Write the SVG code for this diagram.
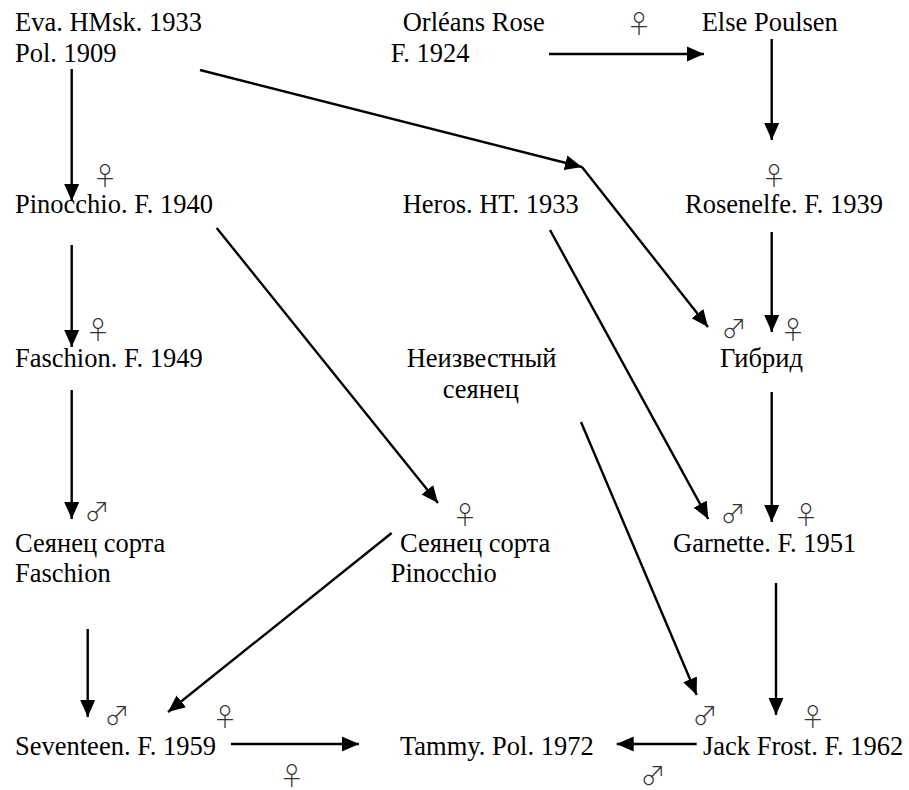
<svg xmlns="http://www.w3.org/2000/svg" width="909" height="790" viewBox="0 0 909 790">
<style>
text.n{font-family:"Liberation Serif","Times New Roman",serif;font-size:26.5px;fill:#000}
text.s{font-family:"Noto Sans CJK JP","DejaVu Sans",sans-serif;font-size:25px;font-weight:300;fill:#333;text-anchor:middle}
.c line{stroke:#000;stroke-width:2.4;fill:none;marker-end:url(#ah)}
</style>
<defs>
<marker id="ah" markerUnits="userSpaceOnUse" markerWidth="17" markerHeight="17" viewBox="0 0 17 17" refX="17" refY="8.5" orient="auto">
<path d="M0,1 L17,8.5 L0,16 Z" fill="#000"/>
</marker>
</defs>
<rect width="909" height="790" fill="#fff"/>
<g class="c" id="connectors">
<line x1="71.7" y1="69" x2="71.7" y2="201"/>
<line x1="200" y1="70" x2="582" y2="167"/>
<line x1="582" y1="167" x2="708" y2="327"/>
<line x1="549" y1="54" x2="704" y2="54"/>
<line x1="771.7" y1="39" x2="771.7" y2="140"/>
<line x1="71.7" y1="245" x2="71.7" y2="347"/>
<line x1="216.7" y1="228" x2="438" y2="503"/>
<line x1="550" y1="230" x2="708.3" y2="519"/>
<line x1="771.7" y1="232" x2="771.7" y2="332"/>
<line x1="71.7" y1="390" x2="71.7" y2="519"/>
<line x1="771.7" y1="392" x2="771.7" y2="522"/>
<line x1="391.7" y1="533" x2="168" y2="712"/>
<line x1="581" y1="422" x2="696.7" y2="695"/>
<line x1="87.7" y1="629" x2="87.7" y2="717"/>
<line x1="776" y1="583" x2="776" y2="715"/>
<line x1="231" y1="744" x2="359" y2="744"/>
<line x1="696.7" y1="744" x2="616.7" y2="744"/>
</g>
<g id="eva"><text class="n" x="15" y="31">Eva. HMsk. 1933</text><text class="n" x="15" y="62">Pol. 1909</text></g>
<g id="orleans"><text class="n" x="402.7" y="31">Orléans Rose</text><text class="n" x="390.7" y="62">F. 1924</text></g>
<g id="else"><text class="n" x="701.7" y="31">Else Poulsen</text></g>
<g id="pinocchio"><text class="n" x="15" y="213">Pinocchio. F. 1940</text></g>
<g id="heros"><text class="n" x="402.7" y="213">Heros. HT. 1933</text></g>
<g id="rosenelfe"><text class="n" x="685" y="213">Rosenelfe. F. 1939</text></g>
<g id="faschion"><text class="n" x="15" y="367">Faschion. F. 1949</text></g>
<g id="unknown"><text class="n" x="406.7" y="367">Неизвестный</text><text class="n" x="442.7" y="398">сеянец</text></g>
<g id="hybrid"><text class="n" x="720" y="367">Гибрид</text></g>
<g id="seed-faschion"><text class="n" x="15" y="552">Сеянец сорта</text><text class="n" x="15" y="582">Faschion</text></g>
<g id="seed-pinocchio"><text class="n" x="400" y="552">Сеянец сорта</text><text class="n" x="390.7" y="582">Pinocchio</text></g>
<g id="garnette"><text class="n" x="673" y="552">Garnette. F. 1951</text></g>
<g id="seventeen"><text class="n" x="15" y="755">Seventeen. F. 1959</text></g>
<g id="tammy"><text class="n" x="400" y="755">Tammy. Pol. 1972</text></g>
<g id="jackfrost"><text class="n" x="703" y="755">Jack Frost. F. 1962</text></g>
<g id="symbols">
<text class="s" x="639" y="33">♀</text>
<text class="s" x="105" y="185">♀</text>
<text class="s" x="774" y="185">♀</text>
<text class="s" x="98" y="339">♀</text>
<text class="s" x="734" y="338">♂</text>
<text class="s" x="793" y="339">♀</text>
<text class="s" x="97" y="521">♂</text>
<text class="s" x="465" y="524">♀</text>
<text class="s" x="733" y="523">♂</text>
<text class="s" x="806" y="524">♀</text>
<text class="s" x="117" y="725">♂</text>
<text class="s" x="225" y="726">♀</text>
<text class="s" x="705" y="725">♂</text>
<text class="s" x="812.7" y="726">♀</text>
<text class="s" x="291.7" y="785">♀</text>
<text class="s" x="653" y="785">♂</text>
</g>
</svg>
